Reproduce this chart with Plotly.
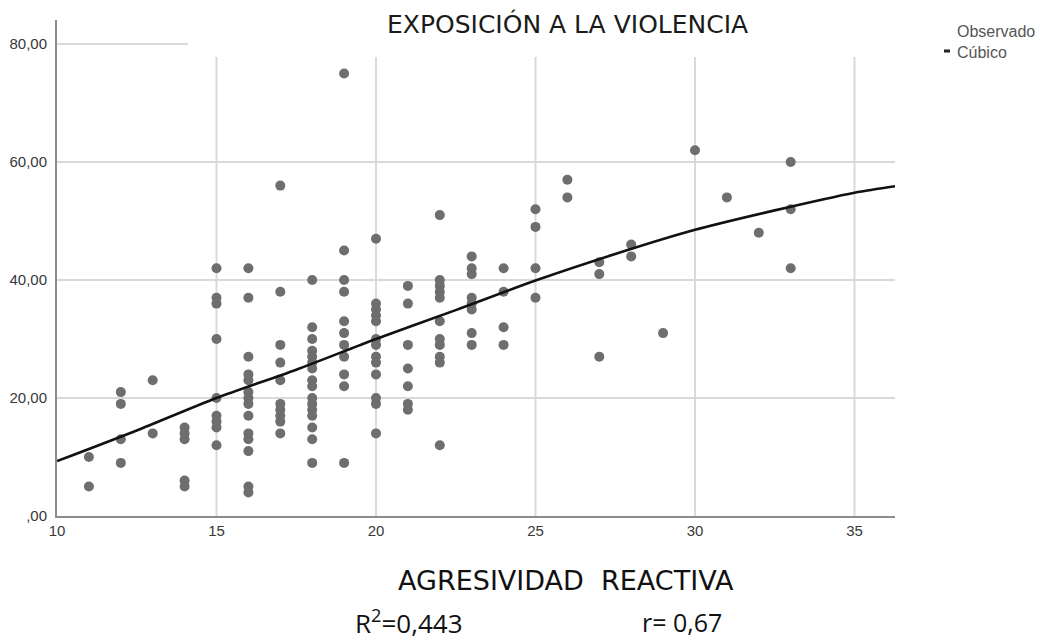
import plotly.graph_objects as go

# ---- data ----
agresividad = (
    [11]*2 + [12]*4 + [13]*2 + [14]*5 + [15]*9 + [16]*14 + [17]*10 + [18]*16 +
    [19]*11 + [20]*13 + [21]*7 + [22]*11 + [23]*8 + [24]*4 + [25]*4 + [26]*2 +
    [27]*3 + [28]*2 + [29] + [30] + [31] + [32] + [33]*3
)
exposicion = (
    [10, 5] +
    [21, 19, 13, 9] +
    [23, 14] +
    [15, 14, 13, 6, 5] +
    [42, 37, 36, 30, 20, 17, 16, 15, 12] +
    [42, 37, 27, 24, 23, 21, 20, 19, 17, 14, 13, 11, 5, 4] +
    [56, 38, 29, 26, 23, 19, 18, 17, 16, 14] +
    [40, 32, 30, 28, 27, 26, 25, 23, 22, 20, 19, 18, 17, 15, 13, 9] +
    [75, 45, 40, 38, 33, 31, 29, 27, 24, 22, 9] +
    [47, 36, 35, 34, 33, 30, 29, 27, 26, 24, 20, 19, 14] +
    [39, 36, 29, 25, 22, 19, 18] +
    [51, 40, 39, 38, 37, 33, 30, 29, 27, 26, 12] +
    [44, 42, 41, 37, 36, 35, 31, 29] +
    [42, 38, 32, 29] +
    [52, 49, 42, 37] +
    [57, 54] +
    [43, 41, 27] +
    [46, 44] +
    [31] + [62] + [54] + [48] +
    [60, 52, 42]
)

# cubic fit curve
curve_x = [10, 12.5, 15, 17.5, 20, 22.5, 25, 27.5, 30, 32.5, 35, 36.27]
curve_y = [9.3, 14.5, 20.0, 24.8, 30.0, 34.9, 39.9, 44.4, 48.5, 51.8, 54.8, 55.9]

x_ticks = [10, 15, 20, 25, 30, 35]
y_ticks = [0, 20, 40, 60, 80]
y_ticktext = [",00", "20,00", "40,00", "60,00", "80,00"]

X_RANGE = [10, 36.27]
Y_RANGE = [0, 84.07]

# ---- figure ----
OFF = 8  # page body margin of the browser
W, H = 1047 - OFF, 642 - OFF
ML, MR, MT, MB = 57 - OFF, 152, 20 - OFF, 126
PW, PH = W - ML - MR, H - MT - MB


def px_x(p):
    return (p - OFF - ML) / PW


def px_y(p):
    return (H - MB - (p - OFF)) / PH


fig = go.Figure()

grid_col = "#d9d9d9"
shapes = []
for v in x_ticks[1:]:
    shapes.append(dict(type="line", xref="x", yref="y", x0=v, x1=v, y0=0, y1=77.8,
                       line=dict(color=grid_col, width=2), layer="below"))
for v in y_ticks[1:]:
    x_end = 14.1 if v == 80 else X_RANGE[1]
    shapes.append(dict(type="line", xref="x", yref="y", x0=X_RANGE[0], x1=x_end, y0=v, y1=v,
                       line=dict(color=grid_col, width=2), layer="below"))
# legend dash for "Cúbico"
shapes.append(dict(type="line", xref="paper", yref="paper", x0=px_x(944), x1=px_x(950),
                   y0=px_y(51), y1=px_y(51), line=dict(color="#222222", width=3)))

fig.add_trace(go.Scatter(
    x=agresividad, y=exposicion, mode="markers", name="Observado",
    marker=dict(color="#6e6e6e", size=10, line=dict(width=0)),
    showlegend=False, cliponaxis=False,
))
fig.add_trace(go.Scatter(
    x=curve_x, y=curve_y, mode="lines", name="Cúbico",
    line=dict(color="#111111", width=2.6, shape="spline", smoothing=0.8),
    showlegend=False,
))

annotations = [
    dict(text="EXPOSICIÓN A LA VIOLENCIA", x=px_x(567), y=px_y(24), xref="paper", yref="paper",
         showarrow=False, xanchor="center", yanchor="middle",
         font=dict(family="DejaVu Sans", size=25, color="#1a1a1a")),
    dict(text="Observado", x=px_x(955), y=px_y(32), xref="paper", yref="paper",
         showarrow=False, xanchor="left", yanchor="middle",
         font=dict(family="Liberation Sans", size=16, color="#555555")),
    dict(text="Cúbico", x=px_x(955), y=px_y(52), xref="paper", yref="paper",
         showarrow=False, xanchor="left", yanchor="middle",
         font=dict(family="Liberation Sans", size=16, color="#555555")),
    dict(text="AGRESIVIDAD  REACTIVA", x=px_x(566), y=px_y(580), xref="paper", yref="paper",
         showarrow=False, xanchor="center", yanchor="middle",
         font=dict(family="DejaVu Sans", size=27, color="#111111")),
    dict(text="R<sup>2</sup>=0,443", x=px_x(353), y=px_y(622), xref="paper", yref="paper",
         showarrow=False, xanchor="left", yanchor="middle",
         font=dict(family="Open Sans", size=26, color="#111111")),
    dict(text="r= 0,67", x=px_x(640), y=px_y(622), xref="paper", yref="paper",
         showarrow=False, xanchor="left", yanchor="middle",
         font=dict(family="Open Sans", size=25, color="#111111")),
]

fig.update_layout(
    width=W, height=H,
    margin=dict(l=ML, r=MR, t=MT, b=MB, autoexpand=False),
    paper_bgcolor="white", plot_bgcolor="white",
    shapes=shapes, annotations=annotations,
    showlegend=False,
    xaxis=dict(range=X_RANGE, tickvals=x_ticks, ticktext=[str(v) for v in x_ticks],
               showgrid=False, zeroline=False, showline=True, linecolor="#8c8c8c", linewidth=2,
               ticks="", ticklabelstandoff=0,
               tickfont=dict(family="Liberation Sans", size=15, color="#383838")),
    yaxis=dict(range=Y_RANGE, tickvals=y_ticks, ticktext=y_ticktext,
               showgrid=False, zeroline=False, showline=True, linecolor="#8c8c8c", linewidth=2,
               ticks="", ticklabelstandoff=5,
               tickfont=dict(family="Liberation Sans", size=15, color="#383838")),
)

fig.write_html("out.html")
